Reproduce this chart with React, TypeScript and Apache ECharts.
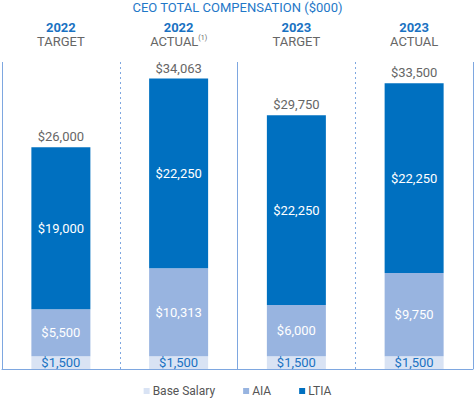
import React, { useEffect, useRef } from "react";
import * as echarts from "echarts";

const categories = ["2022 TARGET", "2022 ACTUAL", "2023 TARGET", "2023 ACTUAL"];
const years = ["2022", "2022", "2023", "2023"];
const kinds = ["TARGET", "ACTUAL", "TARGET", "ACTUAL"];
const footnotes = ["", "(1)", "", ""];
const baseSalary = [1500, 1500, 1500, 1500];
const aia = [5500, 10313, 6000, 9750];
const ltia = [19000, 22250, 22250, 22250];
const totals = [26000, 34063, 29750, 33500];

const LINE = "#7ea7e0";
const FONT = "Roboto, 'Liberation Sans', Arial, sans-serif";

const fmt = (v: number) => "$" + v.toLocaleString("en-US");

export default function App() {
  const ref = useRef<HTMLDivElement>(null);
  useEffect(() => {
    document.body.style.margin = "0";
    if (!ref.current) return;
    const chart = echarts.init(ref.current, null, { renderer: "svg" });
    chart.setOption({
      animation: false,
      textStyle: { fontFamily: FONT },
      title: {
        text: "CEO TOTAL COMPENSATION ($000)",
        left: "center",
        top: 0,
        padding: 0,
        textStyle: { color: "#1f78c8", fontSize: 13, fontWeight: "normal", fontFamily: FONT, lineHeight: 15 },
      },
      legend: {
        top: 385,
        left: "center",
        padding: 0,
        data: ["Base Salary", "AIA", "LTIA"],
        icon: "rect",
        itemWidth: 6,
        itemHeight: 6,
        itemGap: 28,
        textStyle: { color: "#555", fontSize: 12, fontFamily: FONT, padding: [0, 0, 0, -2] },
      },
      grid: { left: 2, right: 2, top: 62, bottom: 30 },
      xAxis: [
        {
          type: "category",
          data: categories,
          position: "bottom",
          axisLine: { show: true, lineStyle: { color: LINE, width: 1 } },
          axisTick: { show: false },
          axisLabel: { show: false },
          splitLine: {
            show: true,
            interval: (i: number) => i % 2 === 0,
            lineStyle: { color: LINE, width: 1, type: "solid" },
          },
        },
        {
          type: "category",
          data: categories,
          position: "top",
          axisLine: { show: false },
          axisTick: { show: false },
          axisLabel: {
            show: true,
            interval: 0,
            margin: 14,
            formatter: (_v: string, i: number) =>
              `{y|${years[i]}}\n{t|${kinds[i]}}` + (footnotes[i] ? `{s|${footnotes[i]}}` : ""),
            rich: {
              y: { color: "#1a72c2", fontSize: 13, fontWeight: "bold", fontFamily: FONT, lineHeight: 14 },
              t: { color: "#666", fontSize: 13, fontFamily: FONT, lineHeight: 14 },
              s: { color: "#666", fontSize: 7, fontFamily: FONT, verticalAlign: "top", lineHeight: 14, padding: [0, 0, 6, 0] },
            },
          },
          splitLine: {
            show: true,
            interval: (i: number) => i % 2 === 1,
            lineStyle: { color: LINE, width: 1, type: [2, 3] },
          },
        },
      ],
      yAxis: { type: "value", min: 0, max: 36000, show: false, splitLine: { show: false } },
      series: [
        {
          name: "Base Salary",
          type: "bar",
          stack: "c",
          barWidth: 59,
          data: baseSalary,
          itemStyle: { color: "#d9e3f4" },
          label: { show: true, position: "inside", color: "#1a72c2", fontSize: 13, fontFamily: FONT, formatter: (p: any) => fmt(p.value) },
        },
        {
          name: "AIA",
          type: "bar",
          stack: "c",
          data: aia,
          itemStyle: { color: "#98b4e0" },
          label: { show: true, position: "inside", color: "#fff", fontSize: 13, fontFamily: FONT, formatter: (p: any) => fmt(p.value) },
        },
        {
          name: "LTIA",
          type: "bar",
          stack: "c",
          data: ltia,
          itemStyle: { color: "#0070c0" },
          label: { show: true, position: "inside", color: "#fff", fontSize: 13, fontFamily: FONT, formatter: (p: any) => fmt(p.value) },
        },
        {
          name: "Total",
          type: "bar",
          stack: "c",
          data: totals.map(() => 0),
          itemStyle: { color: "transparent" },
          label: {
            show: true,
            position: "top",
            distance: 4,
            color: "#666",
            fontSize: 13,
            fontFamily: FONT,
            formatter: (p: any) => fmt(totals[p.dataIndex]),
          },
        },
      ],
    });
    return () => chart.dispose();
  }, []);
  return <div ref={ref} style={{ width: 475, height: 399 }} />;
}
